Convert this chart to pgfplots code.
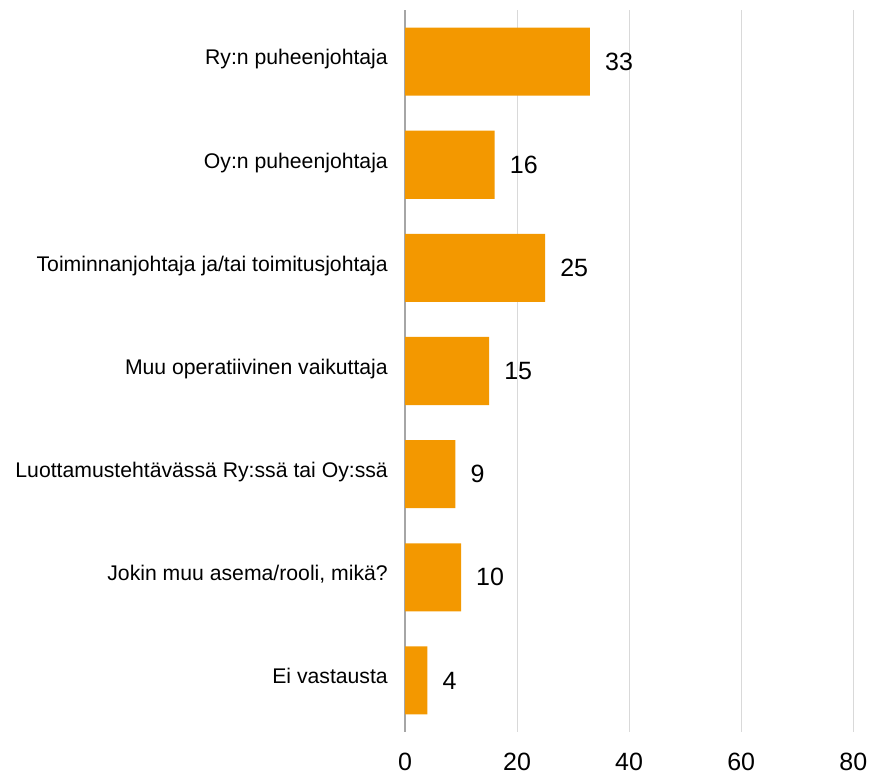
\documentclass[border=0pt]{standalone}
\usepackage{fontspec}
\setmainfont{Liberation Sans}
\usepackage{pgfplots}
\pgfplotsset{compat=1.18}
\definecolor{barorange}{RGB}{243,152,0}
\definecolor{gridgray}{RGB}{217,217,217}
\definecolor{axisgray}{RGB}{166,166,166}
\begin{document}
\begin{tikzpicture}
\begin{axis}[
  at={(405pt,43pt)}, anchor=south west,
  scale only axis, width=448.3pt, height=722pt,
  xbar, bar width=0.66,
  xmin=0, xmax=80, ymin=-0.5, ymax=6.5,
  y dir=reverse,
  axis lines*=left,
  x axis line style={draw=none},
  y axis line style={draw=axisgray, line width=1.6pt},
  xtick={0,20,40,60,80},
  ytick={0,1,2,3,4,5,6},
  yticklabels={Ry:n puheenjohtaja, Oy:n puheenjohtaja, Toiminnanjohtaja ja/tai toimitusjohtaja, Muu operatiivinen vaikuttaja, Luottamustehtävässä Ry:ssä tai Oy:ssä, {Jokin muu asema/rooli, mikä?}, Ei vastausta},
  major tick length=0pt,
  xmajorgrids, grid style={draw=gridgray, line width=1pt},
  /pgf/number format/assume math mode=true,
  xticklabel style={font=\fontsize{25}{30}\selectfont, anchor=north, inner sep=0pt, yshift=-21pt},
  yticklabel style={font=\fontsize{21.2}{25}\selectfont, anchor=base east, inner sep=0pt, xshift=-17pt, yshift=-0.33em},
  nodes near coords,
  nodes near coords style={font=\fontsize{25}{30}\selectfont, anchor=west, inner sep=0pt, xshift=15pt, text=black},
  clip=false,
]
\addplot[fill=barorange, draw=none] coordinates {(33,0) (16,1) (25,2) (15,3) (9,4) (10,5) (4,6)};
\end{axis}
\pgfresetboundingbox
\path[use as bounding box] (0,0) rectangle (872pt,775pt);
\end{tikzpicture}
\end{document}
